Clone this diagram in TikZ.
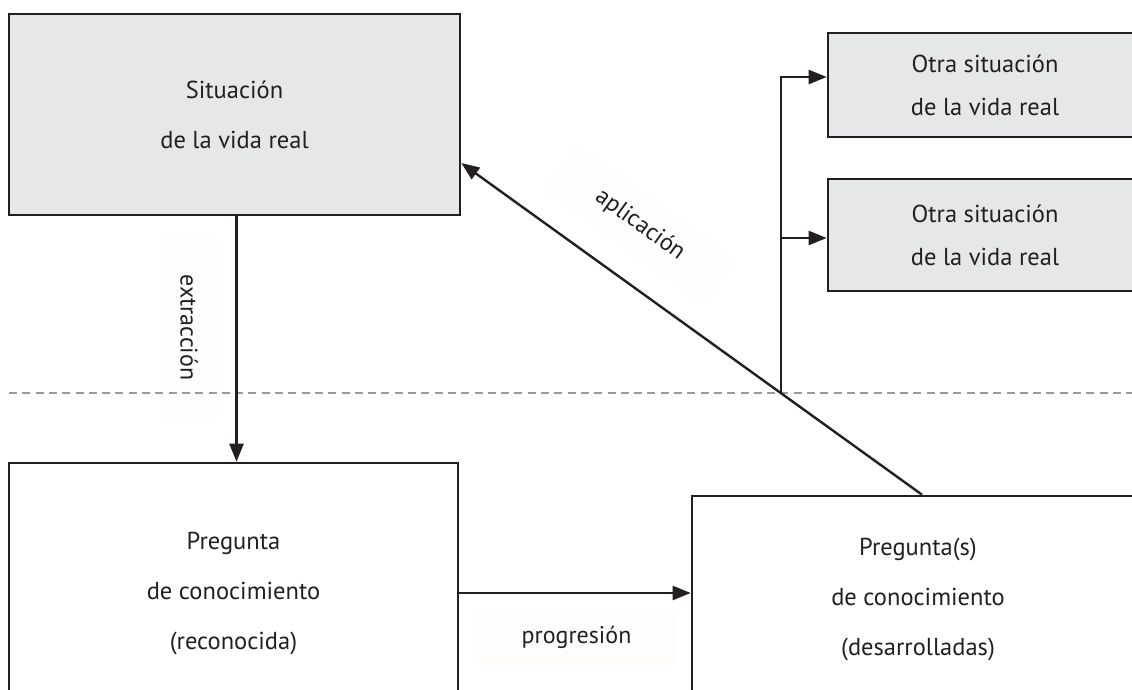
\documentclass[tikz,border=0pt]{standalone}
\usepackage{fontspec}
\setmainfont{PT Sans}
\usetikzlibrary{arrows.meta,calc}
\definecolor{ink}{HTML}{231F20}
\definecolor{boxgray}{HTML}{E6E7E8}
\definecolor{dashgray}{HTML}{9A9A9A}
\definecolor{labelbg}{HTML}{FEFDFB}
\begin{document}
\begin{tikzpicture}[x=1pt,y=-1pt,
  box/.style={draw=ink, line width=2.6pt, text=ink, align=center, inner sep=0pt, fill=white,
    font=\fontsize{24.5}{50}\selectfont},
  greybox/.style={box, fill=boxgray},
  lab/.style={fill=labelbg, text=ink, inner sep=0pt, font=\fontsize{24}{28}\selectfont},
  arr/.style={draw=ink, line width=2.4pt, -{Triangle[length=18pt,width=14pt]}},
  conn/.style={draw=ink, line width=2.4pt}]
\clip (0,0) rectangle (1132,689);
\useasboundingbox (0,0) rectangle (1132,689);
% labels (backgrounds)
\node[lab, minimum width=197pt, minimum height=55pt] (lp) at (576.5,637.5) {progresión};
\node[lab, rotate=-90, minimum width=179pt, minimum height=58pt] (le) at (189,327.5) {extracción};
\node[lab, rotate=-36, minimum width=197pt, minimum height=56pt] (la) at (640,225) {aplicación};
% dashed separator
\coordinate (dl) at (9,393);
\coordinate (dr) at (1140,393);
\draw[dashgray, line width=2.5pt, dash pattern=on 8pt off 5.3pt] (dl) -- (dr);
% boxes
\node[greybox, minimum width=451pt, minimum height=201pt] (tl) at (234.5,114.5) {Situación\\de la vida real};
\node[greybox, minimum width=314pt, minimum height=104pt, font=\fontsize{24.5}{43}\selectfont] (o1) at (985,85) {Otra situación\\de la vida real};
\node[greybox, minimum width=314pt, minimum height=112pt, font=\fontsize{24.5}{43}\selectfont] (o2) at (985,235) {Otra situación\\de la vida real};
\node[box, minimum width=449pt, minimum height=262pt] (bl) at (233.5,594) {Pregunta\\de conocimiento\\(reconocida)};
\node[box, minimum width=452pt, minimum height=206pt] (br) at (918,599) {Pregunta(s)\\de conocimiento\\(desarrolladas)};
% connectors
\draw[arr] ([xshift=2pt]tl.south) -- ([xshift=2pt]tl.south |- bl.north);
\draw[arr] ([yshift=1pt]bl.east) -- ([yshift=1pt]bl.east -| br.west);
\coordinate (as) at ([xshift=4pt]br.north);
\coordinate (ae) at ([yshift=-48.5pt]tl.east);
\draw[arr] (as) -- (ae);
\coordinate (j) at ($(as)!0.306!(ae)$);
\draw[arr] (j) |- ([yshift=8pt]o1.west);
\draw[arr] (j |- o2.west) ++(0,3) -- ([yshift=-3pt]o2.west);
\end{tikzpicture}
\end{document}
